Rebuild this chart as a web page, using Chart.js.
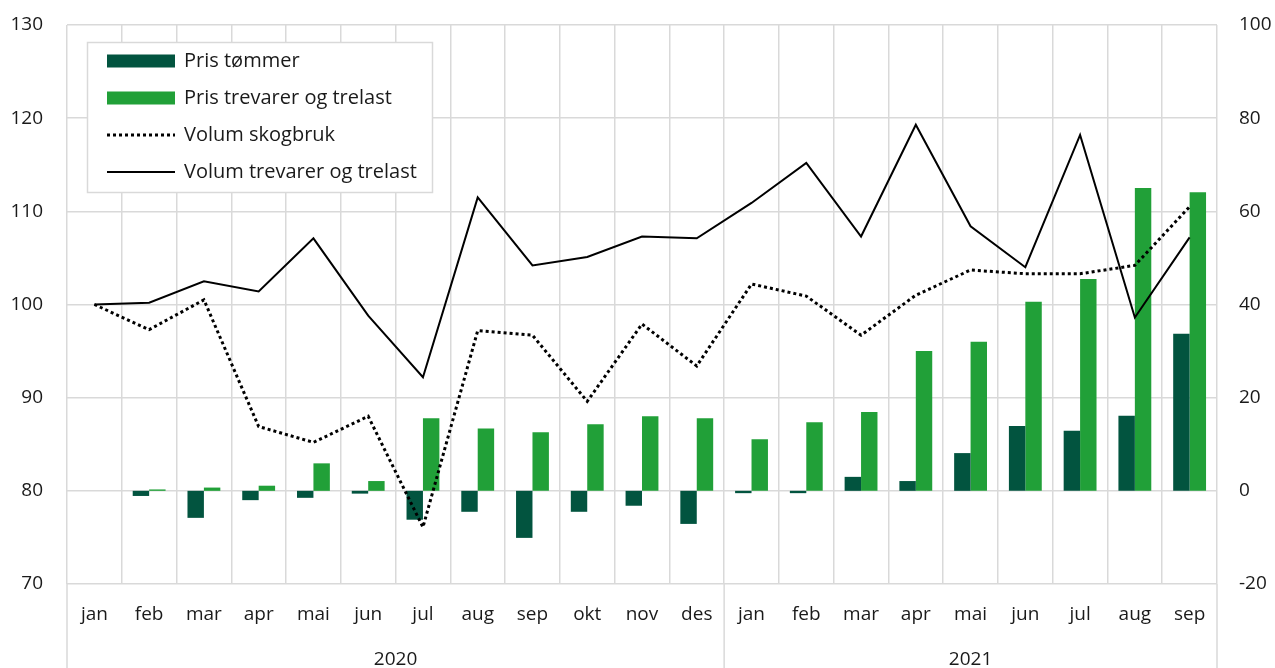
<!DOCTYPE html>
<html lang="no">
<head>
<meta charset="utf-8">
<title>Pris og volum – skogbruk og trevarer</title>
<script src="https://cdn.jsdelivr.net/npm/chart.js@4.4.1/dist/chart.umd.min.js"></script>
<style>
  html, body { margin: 0; padding: 0; background: #fff; }
  #boks { width: 1275px; height: 668px; position: relative; }
</style>
</head>
<body>
<div id="boks"><canvas id="graf"></canvas></div>
<script>
// ===== DATA =====
const maaneder = ['jan','feb','mar','apr','mai','jun','jul','aug','sep','okt','nov','des',
                  'jan','feb','mar','apr','mai','jun','jul','aug','sep'];
const aarTekst = ['2020', '2021'];
const aarStart = [0, 12];   // første måned i hvert år (indeks)
const aarSlutt = [11, 20];

// Prisendring i prosent (høyre akse)
const prisTommer = [0, -1.1, -5.8, -2.0, -1.5, -0.6, -6.2, -4.5, -10.1, -4.5, -3.2, -7.1,
                    -0.5, -0.5, 3.0, 2.1, 8.1, 13.9, 12.9, 16.1, 33.7];
const prisTrevarer = [0, 0.3, 0.7, 1.1, 5.9, 2.1, 15.6, 13.4, 12.6, 14.3, 16.0, 15.6,
                      11.1, 14.7, 16.9, 30.0, 32.0, 40.6, 45.5, 65.0, 64.1];

// Volumindeks, jan 2020 = 100 (venstre akse)
const volumSkogbruk = [100.0, 97.3, 100.5, 86.9, 85.2, 88.0, 76.1, 97.2, 96.7, 89.6, 97.9, 93.4,
                       102.2, 100.9, 96.7, 101.0, 103.7, 103.3, 103.3, 104.2, 110.5];
const volumTrevarer = [100.0, 100.2, 102.5, 101.4, 107.1, 98.8, 92.2, 111.5, 104.2, 105.1, 107.3, 107.1,
                       110.9, 115.2, 107.3, 119.3, 108.4, 104.0, 118.2, 98.6, 107.2];

// ===== FARGER =====
const morkGronn = '#02543F';
const gronn = '#21A038';
const rutenett = '#D9D9D9';
const tekstFarge = '#1a1a1a';
const font = '"Open Sans", "Noto Sans", sans-serif';

// ===== LEGENDE INNE I PLOTTET =====
const legendePlugin = {
  id: 'legendeBoks',
  afterDraw(chart) {
    const { ctx, chartArea } = chart;
    const x0 = chartArea.left + 20, y0 = chartArea.top + 17;
    const b = 345, h = 150;
    ctx.save();
    ctx.fillStyle = '#fff';
    ctx.fillRect(x0, y0, b, h);
    ctx.strokeStyle = rutenett;
    ctx.lineWidth = 1.5;
    ctx.strokeRect(x0 + 0.5, y0 + 0.5, b, h);
    ctx.font = '20px ' + font;
    ctx.textBaseline = 'middle';
    const rader = chart.data.datasets;
    rader.forEach((ds, i) => {
      const yc = y0 + 19 + i * 37;
      const sx = x0 + 20, sb = 68;
      if (ds.type === 'bar') {
        ctx.fillStyle = ds.backgroundColor;
        ctx.fillRect(sx, yc - 6.5, sb, 13);
      } else {
        ctx.strokeStyle = ds.borderColor;
        ctx.lineWidth = ds.borderWidth;
        ctx.setLineDash(ds.borderDash || []);
        ctx.beginPath();
        ctx.moveTo(sx, yc);
        ctx.lineTo(sx + sb, yc);
        ctx.stroke();
        ctx.setLineDash([]);
      }
      ctx.fillStyle = tekstFarge;
      ctx.textAlign = 'left';
      ctx.fillText(ds.label, x0 + 97, yc);
    });
    ctx.restore();
  }
};

// ===== ÅRSETIKETTER UNDER MÅNEDENE =====
const aarPlugin = {
  id: 'aarAkse',
  afterDraw(chart) {
    const { ctx, chartArea } = chart;
    const x = chart.scales.x;
    const halv = (x.getPixelForValue(1) - x.getPixelForValue(0)) / 2;
    ctx.save();
    ctx.strokeStyle = rutenett;
    ctx.lineWidth = 1.5;
    const skiller = [x.getPixelForValue(0) - halv];
    aarTekst.forEach((t, i) => {
      const a = x.getPixelForValue(aarStart[i]) - halv;
      const s = x.getPixelForValue(aarSlutt[i]) + halv;
      skiller.push(s);
      ctx.fillStyle = tekstFarge;
      ctx.font = '19px ' + font;
      ctx.textAlign = 'center';
      ctx.textBaseline = 'middle';
      ctx.fillText(t, (a + s) / 2, chart.height - 8);
    });
    skiller.forEach(px => {
      ctx.beginPath();
      ctx.moveTo(px, chartArea.bottom);
      ctx.lineTo(px, chart.height);
      ctx.stroke();
    });
    ctx.restore();
  }
};

// y-aksene skal ikke reservere ekstra plass over/under plottet
function fastBredde(bredde) {
  return function (s) {
    s.width = bredde;
    s.paddingTop = 0;
    s.paddingBottom = 0;
  };
}

new Chart(document.getElementById('graf'), {
  data: {
    labels: maaneder,
    datasets: [
      { type: 'bar', label: 'Pris tømmer', data: prisTommer, yAxisID: 'y1',
        backgroundColor: morkGronn, order: 2 },
      { type: 'bar', label: 'Pris trevarer og trelast', data: prisTrevarer, yAxisID: 'y1',
        backgroundColor: gronn, order: 2 },
      { type: 'line', label: 'Volum skogbruk', data: volumSkogbruk, yAxisID: 'y',
        borderColor: '#000', borderWidth: 3, borderDash: [3, 3], pointRadius: 0,
        tension: 0, fill: false, order: 0 },
      { type: 'line', label: 'Volum trevarer og trelast', data: volumTrevarer, yAxisID: 'y',
        borderColor: '#000', borderWidth: 2, pointRadius: 0, tension: 0, fill: false, order: 1 }
    ]
  },
  options: {
    responsive: true,
    maintainAspectRatio: false,
    animation: false,
    layout: { padding: { top: 25, right: 0, bottom: 0, left: 0 } },
    datasets: { bar: { categoryPercentage: 0.6, barPercentage: 1.0 } },
    plugins: {
      legend: { display: false },
      tooltip: { enabled: false }
    },
    scales: {
      x: {
        offset: true,
        grid: { color: rutenett, lineWidth: 1.5, offset: true, drawTicks: false },
        border: { display: false },
        ticks: { color: tekstFarge, font: { family: font, size: 19 }, padding: 19,
                 maxRotation: 0, autoSkip: false },
        afterFit(s) { s.height = 84; }
      },
      y: {
        position: 'left',
        min: 70, max: 130,
        ticks: { stepSize: 10, color: tekstFarge, font: { family: font, size: 19 }, padding: 24 },
        grid: { color: rutenett, lineWidth: 1.5, drawTicks: false },
        border: { display: false },
        afterFit: fastBredde(67)
      },
      y1: {
        position: 'right',
        min: -20, max: 100,
        ticks: { stepSize: 20, color: tekstFarge, font: { family: font, size: 19 }, padding: 22 },
        grid: { display: false, drawTicks: false },
        border: { display: false },
        afterFit: fastBredde(58)
      }
    }
  },
  plugins: [legendePlugin, aarPlugin]
});
</script>
</body>
</html>
